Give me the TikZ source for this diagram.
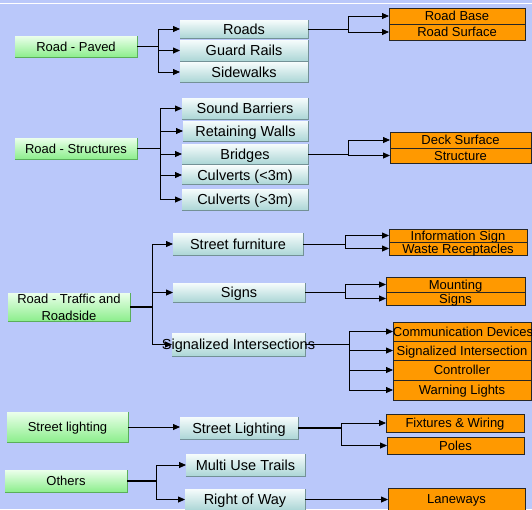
\documentclass[tikz,border=0pt]{standalone}
\usepackage{fontspec}
\setmainfont{Liberation Sans}
\usetikzlibrary{arrows.meta}
\definecolor{bg}{RGB}{186,200,250}
\definecolor{org}{RGB}{255,153,0}
\definecolor{tealtop}{RGB}{246,252,252}
\definecolor{tealbot}{RGB}{172,214,214}
\definecolor{tealedge}{RGB}{115,145,150}
\definecolor{grtop}{RGB}{235,255,235}
\definecolor{grbot}{RGB}{140,238,140}
\definecolor{gredge}{RGB}{90,175,90}
\tikzset{
  base/.style={inner sep=0pt, outer sep=0pt},
  grbox/.style={base, top color=grtop, bottom color=grbot,
    font=\fontsize{13}{15}\selectfont, text height=9.3pt, text depth=0pt},
  tlbox/.style={base, top color=tealtop, bottom color=tealbot,
    font=\fontsize{14.5}{16}\selectfont, text height=10.4pt, text depth=0pt},
  orbox/.style={base, fill=org, draw=black!85, line width=0.8pt,
    font=\fontsize{13}{15}\selectfont, text height=9.3pt, text depth=0pt},
  conn/.style={black, line width=0.8pt},
  trunk/.style={black, line width=1.2pt},
  arr/.style={conn, -{Triangle[length=7pt,width=6pt]}},
  gredgeline/.style={gredge, line width=0.8pt},
  tledgeline/.style={tealedge, line width=0.8pt},
}
\begin{document}
\begin{tikzpicture}[x=1pt,y=-1pt]
\useasboundingbox (0,0) rectangle (532,509);
\clip (0,0) rectangle (532,509);
\fill[bg] (0,0) rectangle (532,509);
\draw[white, line width=1pt] (0,3) -- (532,3);

% ---------- green category boxes ----------
\node[grbox, minimum width=122, minimum height=21] (paved) at (76,46.5) {Road - Paved};
\node[grbox, minimum width=122, minimum height=21] (structs) at (76,148.5) {Road - Structures};
\node[grbox, minimum width=122, minimum height=28] (traffic) at (69,307) {};
\node[base, align=center, font=\fontsize{13}{17}\selectfont] (traffictext) at (69,307.5) {Road - Traffic and\\Roadside};
\node[grbox, minimum width=121, minimum height=30] (lighting) at (67.5,427) {Street lighting};
\node[grbox, minimum width=122, minimum height=22] (others) at (66,481) {Others};

% ---------- teal asset boxes ----------
\node[tlbox, minimum width=128, minimum height=18] (roads) at (244,29) {Roads};
\node[tlbox, minimum width=128, minimum height=21] (guard) at (244,50.5) {Guard Rails};
\node[tlbox, minimum width=128, minimum height=20] (side) at (244,72) {Sidewalks};
\node[tlbox, minimum width=126, minimum height=21] (sound) at (245,108.5) {Sound Barriers};
\node[tlbox, minimum width=125, minimum height=20] (retain) at (245.5,131) {Retaining Walls};
\node[tlbox, minimum width=126, minimum height=20] (bridges) at (245,154) {Bridges};
\node[tlbox, minimum width=126, minimum height=18.5] (culvA) at (245,175) {Culverts (<3m)};
\node[tlbox, minimum width=126, minimum height=21] (culvB) at (245,199.5) {Culverts (>3m)};
\node[tlbox, minimum width=130, minimum height=22] (furn) at (238,244) {Street furniture};
\node[tlbox, minimum width=132, minimum height=19] (signs) at (239,292.5) {Signs};
\node[tlbox, minimum width=133, minimum height=23] (sigint) at (238.5,344.5) {};
\node[tlbox, minimum width=118, minimum height=22] (slight) at (239,428) {Street Lighting};
\node[tlbox, minimum width=119, minimum height=22] (trails) at (245.5,465) {Multi Use Trails};
\node[tlbox, minimum width=120, minimum height=21] (row) at (245,499.5) {Right of Way};

\foreach \n in {paved,structs,traffic,lighting,others}
  \draw[gredgeline] (\n.north east) -- (\n.south east) -- (\n.south west);
\foreach \n in {roads,guard,side,sound,retain,bridges,culvA,culvB,furn,signs,sigint,slight,trails,row}
  \draw[tledgeline] (\n.north east) -- (\n.south east) -- (\n.south west);

% ---------- orange component boxes ----------
\node[orbox, minimum width=136, minimum height=16] (rbase) at (457,16) {Road Base};
\node[orbox, minimum width=136, minimum height=16] (rsurf) at (457,32) {Road Surface};
\node[orbox, minimum width=141, minimum height=16] (deck) at (460.5,140) {Deck Surface};
\node[orbox, minimum width=141, minimum height=15] (struct) at (460.5,155.5) {Structure};
\node[orbox, minimum width=138, minimum height=13] (info) at (458,235.5) {Information Sign};
\node[orbox, minimum width=138, minimum height=13] (waste) at (458,248.5) {Waste Receptacles};
\node[orbox, minimum width=139, minimum height=15] (mount) at (455.5,284.5) {Mounting};
\node[orbox, minimum width=139, minimum height=13] (signsb) at (455.5,298.5) {Signs};
\node[orbox, minimum width=138, minimum height=19] (comm) at (462,331.5) {};
\node[orbox, minimum width=138, minimum height=19] (sigi) at (462,350.5) {Signalized Intersection};
\node[orbox, minimum width=138, minimum height=20] (ctrl) at (462,370) {Controller};
\node[orbox, minimum width=138, minimum height=20] (warn) at (462,390) {Warning Lights};
\node[orbox, minimum width=138, minimum height=18] (fix) at (455,423) {Fixtures \& Wiring};
\node[orbox, minimum width=137, minimum height=17] (poles) at (455.5,445.5) {Poles};
\node[orbox, minimum width=137, minimum height=22] (lane) at (456.5,499) {Laneways};

% ---------- connectors ----------
\coordinate (jP) at (158,46.5);
\draw[trunk] (paved.east) -- (jP);
\foreach \t in {roads,guard,side} \draw[arr] (jP) |- (\t.west);

\coordinate (jR) at (348,29);
\draw[conn] (roads.east) -- (jR);
\foreach \t in {rbase,rsurf} \draw[arr] (jR) |- (\t.west);

\coordinate (jS) at (160,148.5);
\draw[trunk] (structs.east) -- (jS);
\foreach \t in {sound,retain,bridges,culvA,culvB} \draw[arr] (jS) |- (\t.west);

\coordinate (jB) at (348,154);
\draw[conn] (bridges.east) -- (jB);
\foreach \t in {deck,struct} \draw[arr] (jB) |- (\t.west);

\coordinate (jT) at (152,307);
\draw[trunk] (traffic.east) -- (jT);
\foreach \t in {furn,signs,sigint} \draw[arr] (jT) |- (\t.west);

\coordinate (jF) at (345.5,244);
\draw[conn] (furn.east) -- (jF);
\foreach \t in {info,waste} \draw[arr] (jF) |- (\t.west);

\coordinate (jG) at (345,292.5);
\draw[conn] (signs.east) -- (jG);
\foreach \t in {mount,signsb} \draw[arr] (jG) |- (\t.west);

\coordinate (jI) at (349,344.5);
\draw[trunk] (sigint.east) -- (jI);
\foreach \t in {comm,sigi,ctrl,warn} \draw[arr] (jI) |- (\t.west);

\draw[arr] (lighting.east) -- (lighting.east -| slight.west);

\coordinate (jL) at (341.5,428);
\draw[trunk] (slight.east) -- (jL);
\foreach \t in {fix,poles} \draw[arr] (jL) |- (\t.west);

\coordinate (jO) at (156,481);
\draw[trunk] (others.east) -- (jO);
\foreach \t in {trails,row} \draw[arr] (jO) |- (\t.west);

\draw[arr] (row.east) -- (row.east -| lane.west);

% ---------- overflowing labels ----------
\node[base, font=\fontsize{14.5}{16}\selectfont, text height=10.4pt, text depth=0pt] (sigtext) at (sigint.center) {\makebox[0pt]{Signalized Intersections}};
\node[base, font=\fontsize{13}{15}\selectfont, text height=9.3pt, text depth=0pt] (commtext) at (463,331.5) {\makebox[0pt]{Communication Devices}};
\end{tikzpicture}
\end{document}
